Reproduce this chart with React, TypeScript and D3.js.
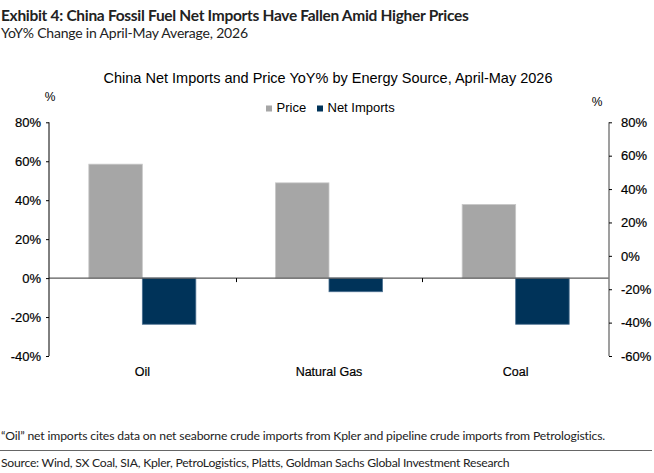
import { useEffect, useRef } from "react";
import * as d3 from "d3";

const categories = ["Oil", "Natural Gas", "Coal"];
const priceYoY = [58.5, 48.9, 37.8];
// net import bars are plotted against the left scale
const netImportsYoY = [-23.7, -7.0, -23.7];
const leftTicks = [-40, -20, 0, 20, 40, 60, 80];
const rightTicks = [-60, -40, -20, 0, 20, 40, 60, 80];
const seriesNames = ["Price", "Net Imports"];
const seriesColors = ["#a6a6a6", "#003359"];

const W = 654;
const H = 473;
const plot = { left: 49, right: 609, top: 122.3, bottom: 356 };

export default function App() {
  const svgRef = useRef<SVGSVGElement | null>(null);

  useEffect(() => {
    if (!svgRef.current) return;
    const svg = d3.select(svgRef.current);
    svg.selectAll("*").remove();

    const header = "Lato, 'Open Sans', sans-serif";
    const chartFont = "'Liberation Sans', Arial, sans-serif";

    svg
      .append("text")
      .attr("x", 1)
      .attr("y", 21)
      .style("font-family", header)
      .style("font-weight", 700)
      .style("font-size", "15.5px")
      .style("letter-spacing", "-0.3px")
      .attr("fill", "#222")
      .text("Exhibit 4: China Fossil Fuel Net Imports Have Fallen Amid Higher Prices");

    svg
      .append("text")
      .attr("x", 1)
      .attr("y", 38)
      .style("font-family", header)
      .style("font-size", "14px")
      .style("letter-spacing", "-0.2px")
      .attr("fill", "#222")
      .text("YoY% Change in April-May Average, 2026");

    svg
      .append("text")
      .attr("x", 328)
      .attr("y", 83)
      .attr("text-anchor", "middle")
      .style("font-family", chartFont)
      .style("font-size", "14.5px")
      .attr("fill", "#000")
      .text("China Net Imports and Price YoY% by Energy Source, April-May 2026");

    // legend
    const legendX = [266, 317];
    seriesNames.forEach((name, i) => {
      const lg = svg.append("g").attr("transform", `translate(${legendX[i]},105.5)`);
      lg.append("rect").attr("width", 6).attr("height", 6).attr("fill", seriesColors[i]);
      lg.append("text")
        .attr("x", 10.5)
        .attr("y", 6)
        .style("font-family", chartFont)
        .style("font-size", "13px")
        .attr("fill", "#000")
        .text(name);
    });

    const yLeft = d3.scaleLinear().domain([-40, 80]).range([plot.bottom, plot.top]);
    const yRight = d3.scaleLinear().domain([-60, 80]).range([plot.bottom, plot.top]);
    const x0 = d3.scaleBand<string>().domain(categories).range([plot.left, plot.right]);
    const x1 = d3
      .scaleBand<string>()
      .domain(seriesNames)
      .range([x0.bandwidth() / 2 - 53.5, x0.bandwidth() / 2 + 53.5]);

    const bars = svg.append("g");
    categories.forEach((c, ci) => {
      const vals = [priceYoY[ci], netImportsYoY[ci]];
      vals.forEach((v, si) => {
        bars
          .append("rect")
          .attr("x", (x0(c) ?? 0) + (x1(seriesNames[si]) ?? 0))
          .attr("width", x1.bandwidth())
          .attr("y", yLeft(Math.max(0, v)))
          .attr("height", Math.abs(yLeft(v) - yLeft(0)))
          .attr("fill", seriesColors[si])
          .attr("stroke", si === 0 ? "#c8c8c8" : "#4a6f90")
          .attr("stroke-width", 0.8);
      });
    });

    // zero line
    svg
      .append("line")
      .attr("x1", plot.left)
      .attr("x2", plot.right)
      .attr("y1", yLeft(0))
      .attr("y2", yLeft(0))
      .attr("stroke", "#5a5a5a")
      .attr("stroke-width", 1.2);

    // category separators
    categories.slice(1).forEach((c) => {
      const xx = Math.round(x0(c) ?? 0) + 0.5;
      svg
        .append("line")
        .attr("x1", xx)
        .attr("x2", xx)
        .attr("y1", yLeft(0))
        .attr("y2", yLeft(0) + 4)
        .attr("stroke", "#000");
    });

    const styleTickText = (sel: d3.Selection<any, any, any, any>) =>
      sel
        .selectAll("text")
        .style("font-family", chartFont)
        .style("font-size", "13px")
        .attr("fill", "#000")
        .attr("stroke", "#000")
        .attr("stroke-width", 0.2);

    const leftAxis = svg
      .append("g")
      .attr("transform", `translate(${plot.left},0)`)
      .call(
        d3
          .axisLeft(yLeft)
          .tickValues(leftTicks)
          .tickSize(3)
          .tickPadding(5)
          .tickFormat((d) => `${d}%`)
      );
    leftAxis.select(".domain").attr("stroke", "#000").attr("d", `M0,${plot.top}V${plot.bottom}`);
    leftAxis.selectAll(".tick line").attr("stroke", "#000");
    styleTickText(leftAxis);

    const rightAxis = svg
      .append("g")
      .attr("transform", `translate(${plot.right},0)`)
      .call(
        d3
          .axisRight(yRight)
          .tickValues(rightTicks)
          .tickSize(3)
          .tickPadding(9)
          .tickFormat((d) => `${d}%`)
      );
    rightAxis
      .select(".domain")
      .attr("stroke", "#7f7f7f")
      .attr("stroke-width", 1.5)
      .attr("d", `M0,${plot.top}V${plot.bottom}`);
    rightAxis.selectAll(".tick line").attr("stroke", "#000");
    styleTickText(rightAxis);

    svg
      .append("text")
      .attr("x", 50)
      .attr("y", 101)
      .attr("text-anchor", "middle")
      .style("font-family", chartFont)
      .style("font-size", "12px")
      .text("%");
    svg
      .append("text")
      .attr("x", 597)
      .attr("y", 106)
      .attr("text-anchor", "middle")
      .style("font-family", chartFont)
      .style("font-size", "12px")
      .text("%");

    categories.forEach((c) => {
      svg
        .append("text")
        .attr("x", (x0(c) ?? 0) + x0.bandwidth() / 2)
        .attr("y", 376)
        .attr("text-anchor", "middle")
        .style("font-family", chartFont)
        .style("font-size", "12.5px")
        .attr("fill", "#000")
        .attr("stroke", "#000")
        .attr("stroke-width", 0.2)
        .text(c);
    });

    svg
      .append("text")
      .attr("x", 1)
      .attr("y", 440)
      .style("font-family", header)
      .style("font-size", "12.2px")
      .style("letter-spacing", "-0.15px")
      .attr("fill", "#222")
      .text("\u201cOil\u201d net imports cites data on net seaborne crude imports from Kpler and pipeline crude imports from Petrologistics.");

    svg
      .append("line")
      .attr("x1", 0)
      .attr("x2", 652)
      .attr("y1", 450.5)
      .attr("y2", 450.5)
      .attr("stroke", "#666")
      .attr("stroke-width", 1);

    svg
      .append("text")
      .attr("x", 1)
      .attr("y", 467)
      .style("font-family", header)
      .style("font-size", "12.2px")
      .style("letter-spacing", "-0.25px")
      .attr("fill", "#222")
      .text("Source: Wind, SX Coal, SIA, Kpler, PetroLogistics, Platts, Goldman Sachs Global Investment Research");
  }, []);

  return (
    <svg
      ref={svgRef}
      width={W}
      height={H}
      viewBox={`0 0 ${W} ${H}`}
      style={{ position: "absolute", left: 0, top: 0, background: "#fff" }}
    />
  );
}
